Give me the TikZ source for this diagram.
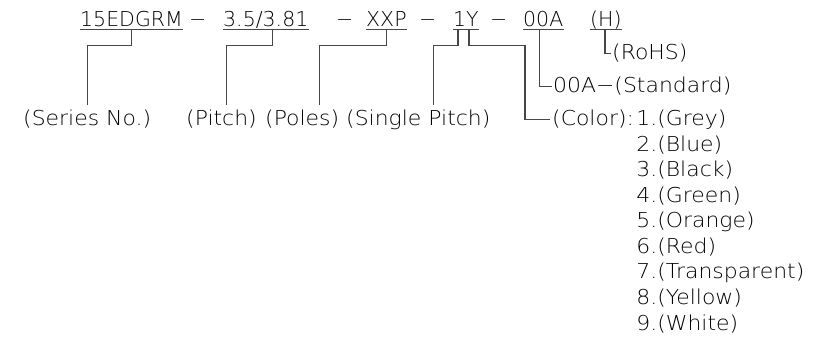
\documentclass[tikz,border=0pt]{standalone}
\usepackage{fontspec}
\setmainfont[FakeStretch=1.07]{DejaVu Sans ExtraLight}
\newfontfamily\partfont{DejaVu Sans ExtraLight}
\begin{document}
\begin{tikzpicture}[x=1pt,y=-1pt,
  every node/.style={inner sep=0pt,font=\fontsize{20.5}{22}\selectfont},
  part/.style={anchor=base west,text depth=0pt,font=\fontsize{20.5}{22}\partfont},
  lbl/.style={anchor=base west},
  lead/.style={line width=1.2pt,black!72}]
\useasboundingbox (0,0) rectangle (832,347);
\def\topy{27}
\def\lowy{126}
\def\rowstep{25.5}

% part number, top line
\node[part] (p1) at (80,\topy) {15EDGRM};
\node[part] (d1) at (189,\topy) {−};
\node[part] (p2) at (223,\topy) {3.5/3.81};
\node[part] (d2) at (336,\topy) {−};
\node[part] (p3) at (366,\topy) {XXP};
\node[part] (d3) at (419,\topy) {−};
\node[part] (p4) at (453,\topy) {1Y};
\node[part] (d4) at (490,\topy) {−};
\node[part] (p5) at (523,\topy) {00A};
\node[part] (p6) at (590,\topy) {(H)};
\foreach \n in {p1,p2,p3,p4,p5,p6}
  \draw[lead] ([yshift=-2pt]\n.south west) -- ([yshift=-2pt]\n.south east);

% what each field means
\node[lbl] (l1) at (23,\lowy) {(Series No.)};
\node[lbl] (l2) at (186,\lowy) {(Pitch)};
\node[lbl] (l3) at (265,\lowy) {(Poles)};
\node[lbl] (l4) at (346,\lowy) {(Single Pitch)};
\node[lbl] (r1) at (612,60) {(RoHS)};
\node[lbl] (s1) at (553,93) {00A−(Standard)};
\node[lbl] (c0) at (552,\lowy) {(Color):};
\node[lbl] (c1) at ([xshift=2pt]c0.base east) {1.(Grey)};
\foreach \i/\t [count=\k] in {2/Blue,3/Black,4/Green,5/Orange,6/Red,7/Transparent,8/Yellow,9/White}
  \node[lbl] (c\i) at ([yshift={-\k*\rowstep*1pt}]c1.base west) {\i.(\t)};

\draw[lead] ([yshift=-2pt]p1.south) -- ++(0,16) -| ([yshift=5pt]l1.north);
\draw[lead] ([xshift=7pt,yshift=-2pt]p2.south) -- ++(0,16) -| ([xshift=5pt,yshift=5pt]l2.north);
\draw[lead] ([yshift=-2pt]p3.south) -- ++(0,16) -| ([xshift=17pt,yshift=5pt]l3.north);
\draw[lead] ([xshift=-8pt,yshift=-2pt]p4.south) -- ++(0,16) -| ([xshift=15pt,yshift=5pt]l4.north);
\draw[lead] ([xshift=3pt,yshift=-2pt]p4.south) -- ++(0,16) -- ++(56,0) |- ([xshift=-2pt]c0.west);
\draw[lead] ([xshift=-4pt,yshift=-2pt]p5.south) |- ([xshift=-1pt]s1.west);
\draw[lead] ([xshift=-1pt,yshift=-2pt]p6.south) |- ([xshift=-1pt]r1.west);

\end{tikzpicture}
\end{document}
